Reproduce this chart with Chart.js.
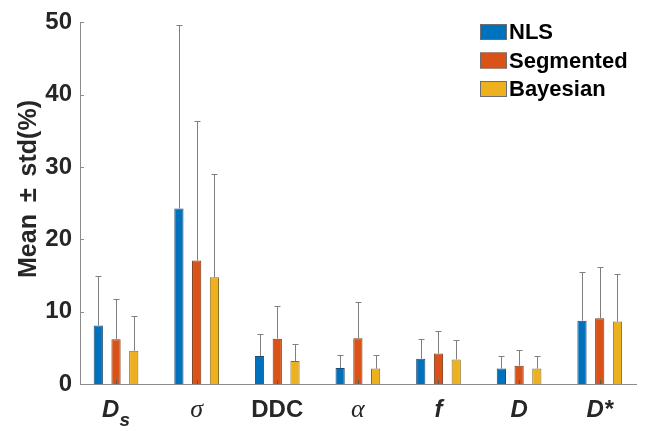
<!DOCTYPE html>
<html>
<head>
<meta charset="utf-8">
<script src="https://cdn.jsdelivr.net/npm/chart.js@4.4.1/dist/chart.umd.min.js"></script>
<style>
  html, body { margin: 0; padding: 0; background: #ffffff; }
  #wrap { width: 646px; height: 431px; }
</style>
</head>
<body>
<div id="wrap"><canvas id="c" width="646" height="431"></canvas></div>
<script>
// ---- data ----
const categories = ['Ds', 'σ', 'DDC', 'α', 'f', 'D', 'D*'];
const seriesNames = ['NLS', 'Segmented', 'Bayesian'];
const nlsMean = [8.1, 24.25, 3.86, 2.22, 3.5, 2.13, 8.76];
const nlsStd  = [6.8, 25.35, 3.04, 1.82, 2.67, 1.68, 6.74];
const segMean = [6.2, 17.07, 6.27, 6.31, 4.22, 2.54, 9.08];
const segStd  = [5.55, 19.33, 4.58, 5.04, 3.05, 2.14, 7.12];
const bayMean = [4.6, 14.76, 3.18, 2.13, 3.4, 2.13, 8.63];
const bayStd  = [4.85, 14.34, 2.36, 1.82, 2.68, 1.68, 6.63];
const yTicks  = [0, 10, 20, 30, 40, 50];

const means = [nlsMean, segMean, bayMean];
const stds = [nlsStd, segStd, bayStd];
const fills = ['#0072BD', '#D95319', '#EDB120'];
const edges = ['#1f4a6e', '#7a3a1c', '#8a6d2a'];

const SANS = '"Liberation Sans", Arial, sans-serif';
const SERIF = '"Liberation Serif", "Times New Roman", serif';
const TXT = '#262626';
const AXIS = '#8c8c8c';

// rich rendering of category labels
const labelStyle = {
  'Ds':  [{t: 'D', f: 'italic bold 24px ' + SANS, dy: 0}, {t: 's', f: 'italic bold 19px ' + SANS, dy: 9}],
  'σ':   [{t: 'σ', f: 'italic 26px ' + SERIF, dy: 0}],
  'DDC': [{t: 'DDC', f: 'bold 24px ' + SANS, dy: 0}],
  'α':   [{t: 'α', f: 'italic 26px ' + SERIF, dy: 0}],
  'f':   [{t: 'f', f: 'italic bold 24px ' + SANS, dy: 0}],
  'D':   [{t: 'D', f: 'italic bold 24px ' + SANS, dy: 0}],
  'D*':  [{t: 'D', f: 'italic bold 24px ' + SANS, dy: 0}, {t: '*', f: 'italic bold 24px ' + SANS, dy: 0}]
};

const extras = {
  id: 'extras',
  afterDatasetsDraw(chart) {
    const ctx = chart.ctx;
    const ys = chart.scales.y;
    ctx.save();
    ctx.strokeStyle = '#7f7f7f';
    ctx.lineWidth = 1;
    chart.data.datasets.forEach((ds, di) => {
      const meta = chart.getDatasetMeta(di);
      meta.data.forEach((bar, i) => {
        const x = Math.round(bar.x) + 0.5;
        const yTop = Math.round(ys.getPixelForValue(means[di][i] + stds[di][i])) + 0.5;
        ctx.beginPath();
        ctx.moveTo(x, bar.y);
        ctx.lineTo(x, yTop);
        ctx.moveTo(x - 3, yTop);
        ctx.lineTo(x + 3, yTop);
        ctx.stroke();
      });
    });
    ctx.restore();
  },
  afterDraw(chart) {
    const ctx = chart.ctx;
    const xs = chart.scales.x, ys = chart.scales.y;
    const area = chart.chartArea;
    ctx.save();
    // inward ticks
    ctx.strokeStyle = '#5a5a5a';
    ctx.lineWidth = 1;
    ctx.beginPath();
    categories.forEach((c, i) => {
      const x = Math.round(xs.getPixelForValue(i + 1)) + 0.5;
      ctx.moveTo(x, area.bottom);
      ctx.lineTo(x, area.bottom - 4);
    });
    ctx.stroke();
    ctx.strokeStyle = AXIS;
    ctx.beginPath();
    yTicks.forEach(v => {
      const y = Math.round(ys.getPixelForValue(v)) + 0.5;
      ctx.moveTo(area.left, y);
      ctx.lineTo(area.left + 4, y);
    });
    ctx.stroke();

    // category labels
    ctx.fillStyle = TXT;
    ctx.textBaseline = 'alphabetic';
    ctx.textAlign = 'left';
    categories.forEach((c, i) => {
      const parts = labelStyle[c];
      let w = 0;
      parts.forEach(p => { ctx.font = p.f; p.w = ctx.measureText(p.t).width; w += p.w; });
      let x = xs.getPixelForValue(i + 1) - w / 2;
      parts.forEach(p => {
        ctx.font = p.f;
        ctx.fillText(p.t, x, 417 + p.dy);
        x += p.w;
      });
    });

    // y axis title (rotated)
    ctx.save();
    ctx.translate(29, 0);
    ctx.rotate(-Math.PI / 2);
    ctx.font = 'bold 25px ' + SANS;
    ctx.textBaseline = 'middle';
    const pieces = ['Mean', '±', 'std(%)'];
    const gap = 12;
    const ws = pieces.map(p => ctx.measureText(p).width);
    const total = ws.reduce((a, b) => a + b, 0) + gap * (pieces.length - 1);
    let pos = -189 - total / 2;
    pieces.forEach((p, k) => {
      ctx.fillText(p, pos, 0);
      pos += ws[k] + gap;
    });
    ctx.restore();

    // legend
    ctx.font = 'bold 22px ' + SANS;
    ctx.textBaseline = 'middle';
    seriesNames.forEach((name, k) => {
      const by = 24 + k * 28.5;
      ctx.fillStyle = fills[k];
      ctx.fillRect(480, by, 27, 16);
      ctx.strokeStyle = '#6e6e6e';
      ctx.lineWidth = 1;
      ctx.strokeRect(480.5, by + 0.5, 26, 15);
      ctx.fillStyle = '#000000';
      ctx.fillText(name, 509, by + 9);
    });
    ctx.restore();
  }
};

new Chart(document.getElementById('c'), {
  type: 'bar',
  data: {
    datasets: seriesNames.map((name, k) => ({
      label: name,
      data: means[k].map((v, i) => ({x: i + 1, y: v})),
      backgroundColor: fills[k],
      borderColor: edges[k],
      borderWidth: 1,
      categoryPercentage: 0.66,
      barPercentage: 0.52
    }))
  },
  options: {
    responsive: false,
    animation: false,
    devicePixelRatio: 1,
    layout: { padding: { left: 0, top: 17, right: 10, bottom: 0 } },
    plugins: { legend: { display: false }, tooltip: { enabled: false } },
    scales: {
      x: {
        type: 'linear',
        offset: false,
        min: 0.553,
        max: 7.45,
        afterBuildTicks: s => { s.ticks = categories.map((c, i) => ({ value: i + 1 })); },
        ticks: { display: false },
        grid: { display: false, drawTicks: false },
        border: { display: true, color: AXIS, width: 1 },
        afterFit: s => { s.height = 47; }
      },
      y: {
        min: 0,
        max: 50,
        afterBuildTicks: s => { s.ticks = yTicks.map(v => ({ value: v })); },
        ticks: {
          font: { family: SANS, weight: 'bold', size: 24 },
          color: TXT,
          padding: 8
        },
        grid: { display: false, drawTicks: false },
        border: { display: true, color: AXIS, width: 1 },
        afterFit: s => { s.width = 80; }
      }
    }
  },
  plugins: [extras]
});
</script>
</body>
</html>
